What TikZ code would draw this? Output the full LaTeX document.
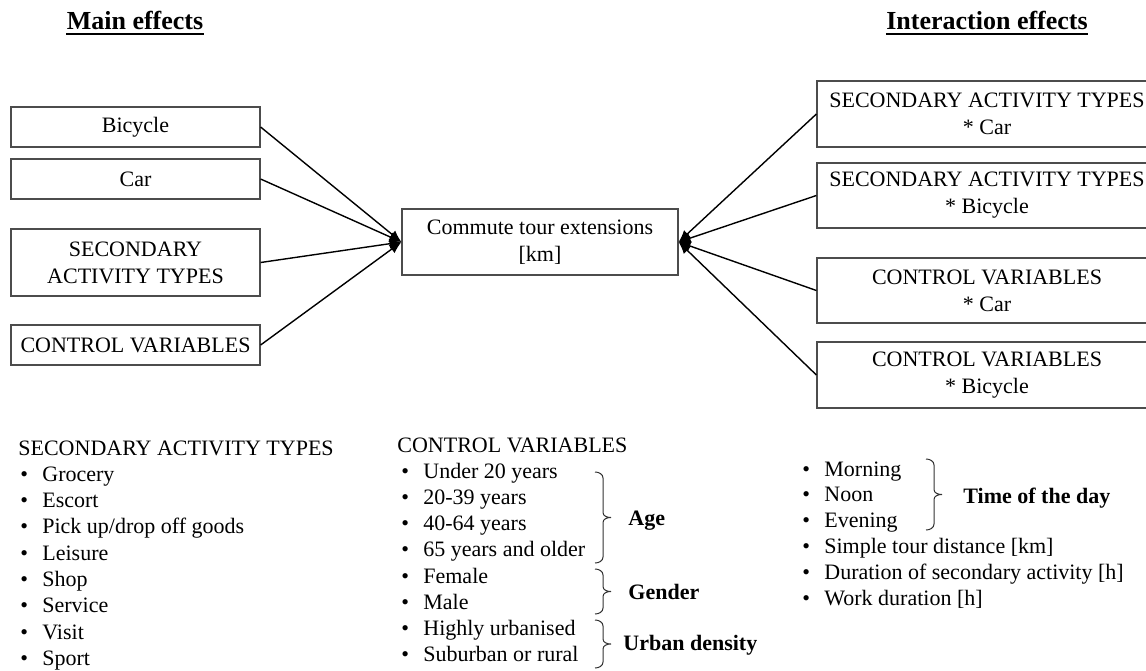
\documentclass[tikz,border=0pt]{standalone}
\usepackage{fontspec}
\setmainfont{Liberation Serif}
\usetikzlibrary{arrows.meta,positioning}
\tikzset{
    box/.style = {draw=black!70, line width=0.6pt, align=center, inner sep=0pt,
                  font=\fontsize{11}{13.5}\selectfont},
    link/.style = {-{Latex[length=6pt,width=5pt]}, line width=0.7pt},
    head/.style = {font=\fontsize{13}{15}\selectfont\bfseries, inner sep=0pt, anchor=base},
    item/.style = {font=\fontsize{11}{13}\selectfont, inner sep=0pt, anchor=base west},
    grp/.style = {font=\fontsize{11}{13}\selectfont\bfseries, inner sep=0pt, anchor=base west},
    curly/.style = {line width=0.5pt, black!80}
}
\newcommand{\bul}[1]{\makebox[11pt][l]{\textbullet}#1}
% x, top, bottom
\newcommand{\grpbrace}[3]{%
  \draw[curly] (#1,#2) to[out=0,in=90] ({#1+8},{#2+6}) -- ({#1+8},{(#2+#3)/2-5})
    to[out=-90,in=180] ({#1+16},{(#2+#3)/2}) to[out=180,in=90] ({#1+8},{(#2+#3)/2+5})
    -- ({#1+8},{#3-6}) to[out=-90,in=0] (#1,#3);}

\begin{document}
\begin{tikzpicture}[x=0.5pt, y=-0.5pt]
    \useasboundingbox (0,0) rectangle (1146,670);

    %Headings
    \node[head] (mainhd) at (135,29) {Main effects};
    \node[head] (interhd) at (987,29) {Interaction effects};
    \draw[line width=1pt] ([yshift=-2.5pt]mainhd.base west) -- ([yshift=-2.5pt]mainhd.base east);
    \draw[line width=1pt] ([yshift=-2.5pt]interhd.base west) -- ([yshift=-2.5pt]interhd.base east);

    %%Main effects
    \node[box, minimum width=124.5pt, minimum height=20pt] (bike) at (135.5,127) {Bicycle};
    \node[box, minimum width=124.5pt, minimum height=20pt] (car) at (135.5,179) {Car};
    \node[box, minimum width=124.5pt, minimum height=33.5pt] (sat) at (135.5,262.5) {SECONDARY\\ACTIVITY TYPES};
    \node[box, minimum width=124.5pt, minimum height=20pt] (cv) at (135.5,345) {CONTROL VARIABLES};

    %%Outcome
    \node[box, minimum width=138pt, minimum height=33pt] (cte) at (540,242) {Commute tour extensions\\{[km]}};

    %%Interaction effects
    \node[box, minimum width=170pt, minimum height=33pt] (satcar) at (987,114) {SECONDARY ACTIVITY TYPES\\* Car};
    \node[box, minimum width=170pt, minimum height=32.5pt] (satbike) at (987,195.5) {SECONDARY ACTIVITY TYPES\\* Bicycle};
    \node[box, minimum width=170pt, minimum height=32.5pt] (cvcar) at (987,290.5) {CONTROL VARIABLES\\* Car};
    \node[box, minimum width=170pt, minimum height=33pt] (cvbike) at (987,375) {CONTROL VARIABLES\\* Bicycle};

    % Directed edges
    \draw[link] (bike.east) -- (cte.west);
    \draw[link] (car.east) -- (cte.west);
    \draw[link] (sat.east) -- (cte.west);
    \draw[link] (cv.east) -- (cte.west);
    \draw[link] (satcar.west) -- (cte.east);
    \draw[link] (satbike.west) -- (cte.east);
    \draw[link] (cvcar.west) -- (cte.east);
    \draw[link] (cvbike.west) -- (cte.east);

    %%Lists
    \node[item] (sattl) at (18,455) {SECONDARY ACTIVITY TYPES};
    \foreach \t [count=\i] in {Grocery, Escort, Pick up/drop off goods, Leisure, Shop, Service, Visit, Sport}
        \node[item] (sat\i) at (20,{455+26.3*\i}) {\bul{\t}};

    \node[item] (cvtl) at (397,452) {CONTROL VARIABLES};
    \foreach \t [count=\i] in {Under 20 years, 20-39 years, 40-64 years, 65 years and older, Female, Male, Highly urbanised, Suburban or rural}
        \node[item] (cv\i) at (401,{452+26.2*\i}) {\bul{\t}};

    \foreach \t [count=\i] in {Morning, Noon, Evening, Simple tour distance [km], Duration of secondary activity [h], Work duration [h]}
        \node[item] (oth\i) at (802,{450.2+25.8*\i}) {\bul{\t}};

    %%Groups
    \grpbrace{595}{472}{563}
    \grpbrace{595}{569}{614}
    \grpbrace{595}{620}{668}
    \grpbrace{926}{459}{530}
    \node[grp] (age) at (628,525) {Age};
    \node[grp] (gender) at (628,599) {Gender};
    \node[grp] (urban) at (623,650) {Urban density};
    \node[grp] (tod) at (963,503) {Time of the day};
\end{tikzpicture}
\end{document}
